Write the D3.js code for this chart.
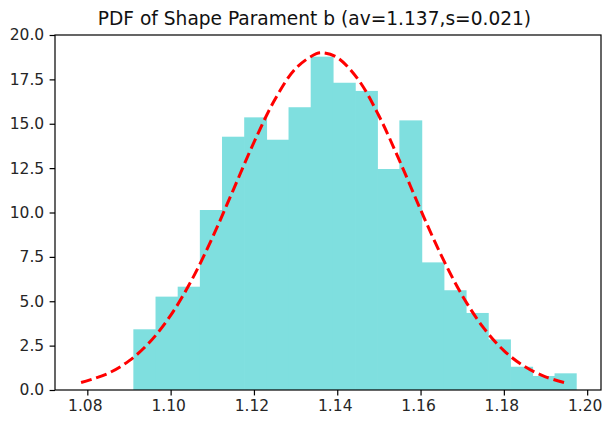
<!DOCTYPE html>
<html><head><meta charset="utf-8">
<script src="https://cdn.jsdelivr.net/npm/d3@7"></script>
<style>body{margin:0;background:#fff}svg{display:block}</style>
</head><body>
<script>
// Histogram (density)
const binStart = 1.09105;
const binWidth = 0.005322;
const binHeights = [3.42,5.26,5.82,10.14,14.27,15.36,14.10,15.93,18.78,17.31,16.85,12.45,15.19,7.19,5.62,4.34,2.85,1.31,0.79,0.94];
// Fitted PDF curve points
const curveX = [1.0785,1.085,1.090,1.095,1.100,1.105,1.110,1.115,1.120,1.125,1.130,1.135,1.1365,1.140,1.145,1.150,1.155,1.160,1.165,1.170,1.175,1.180,1.185,1.190,1.195];
const curveY = [0.42,0.94,1.64,2.70,4.20,6.17,8.57,11.25,13.95,16.35,18.11,18.95,19.00,18.73,17.50,15.45,12.89,10.16,7.57,5.33,3.54,2.22,1.32,0.74,0.39];
const xTicks = [1.08,1.10,1.12,1.14,1.16,1.18,1.20];
const yTicks = [0,2.5,5,7.5,10,12.5,15,17.5,20];
const title = "PDF of Shape Parament b (av=1.137,s=0.021)";

const W = 602, H = 421;
const m = {left:55, right:601, top:35, bottom:390};
const svg = d3.select("body").append("svg").attr("width",W).attr("height",H);
const x = d3.scaleLinear().domain([1.07224,1.20332]).range([m.left,m.right]);
const y = d3.scaleLinear().domain([0,20]).range([m.bottom,m.top]);

const bins = binHeights.map((h,i)=>({x0:binStart+i*binWidth,x1:binStart+(i+1)*binWidth,h,last:i===binHeights.length-1}));
svg.append("g").selectAll("rect").data(bins).join("rect")
  .attr("x",d=>x(d.x0)).attr("width",d=>x(d.x1)-x(d.x0)+(d.last?0:0.7))
  .attr("y",d=>y(d.h)).attr("height",d=>y(0)-y(d.h))
  .attr("fill","#7fdfdf");

const pts = curveX.map((v,i)=>[v,curveY[i]]);
svg.append("path").datum(pts)
  .attr("d",d3.line().x(d=>x(d[0])).y(d=>y(d[1])).curve(d3.curveCatmullRom))
  .attr("fill","none").attr("stroke","#ff0000").attr("stroke-width",3)
  .attr("stroke-dasharray","11,4.8");

const font = "DejaVu Sans, sans-serif";
const xAxis = svg.append("g").attr("transform",`translate(0,${m.bottom})`)
  .call(d3.axisBottom(x).tickValues(xTicks).tickFormat(d3.format(".2f")).tickSizeOuter(0).tickSize(5.4).tickPadding(5));
const yAxis = svg.append("g").attr("transform",`translate(${m.left},0)`)
  .call(d3.axisLeft(y).tickValues(yTicks).tickFormat(d3.format(".1f")).tickSizeOuter(0).tickSize(5.4).tickPadding(5.4));
[xAxis,yAxis].forEach(g=>{
  g.select(".domain").remove();
  g.selectAll("line").attr("stroke","#000").attr("stroke-width",1.2);
  g.selectAll("text").attr("fill","#262626").style("font-family",font).style("font-size","15.5px");
});
xAxis.selectAll("text").attr("dx","-2.5");
svg.append("rect").attr("x",m.left).attr("y",m.top).attr("width",m.right-m.left).attr("height",m.bottom-m.top)
  .attr("fill","none").attr("stroke","#000").attr("stroke-width",1.2);
svg.append("text").attr("x",314.5).attr("y",24.5).attr("text-anchor","middle")
  .style("font-family",font).style("font-size","18.6px").attr("fill","#111").text(title);
</script>
</body></html>
